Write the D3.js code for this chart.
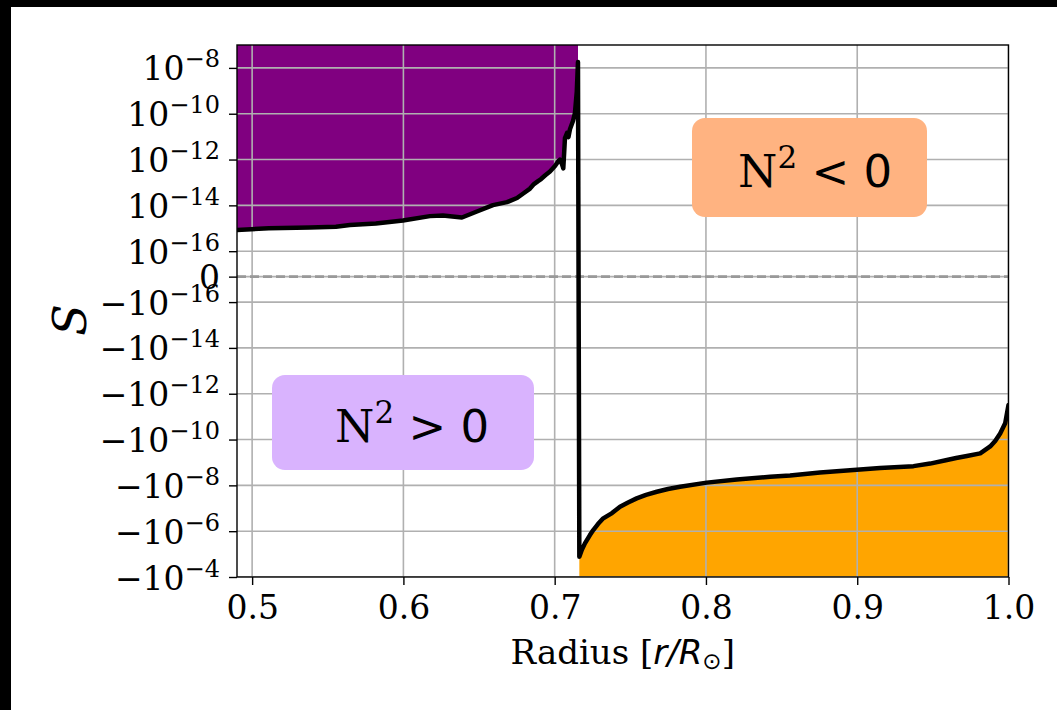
<!DOCTYPE html>
<html>
<head>
<meta charset="utf-8">
<script src="https://cdn.jsdelivr.net/npm/d3@7"></script>
<style>
  body { margin: 0; background: #fff; }
  svg { display: block; }
</style>
</head>
<body>
<svg id="chart" width="1057" height="710"></svg>
<script>
// Radial profile of the stability quantity S through the base of the convection zone
const radius = [
  0.4900, 0.5110, 0.5382, 0.5554, 0.5646, 0.5818, 0.5997, 0.6175, 0.6261, 0.6387,
  0.6486, 0.6592, 0.6685, 0.6751, 0.6797, 0.6837, 0.6863, 0.6890, 0.6910, 0.6936,
  0.6969, 0.7002, 0.7024, 0.7035, 0.7048, 0.7057, 0.7068, 0.7082, 0.7091, 0.7101,
  0.7121, 0.7134, 0.7146, 0.7154,
  0.7163, 0.7179, 0.7200, 0.7233, 0.7255, 0.7286, 0.7321, 0.7379, 0.7432, 0.7485,
  0.7542, 0.7604, 0.7675, 0.7749, 0.7829, 0.8005, 0.8204, 0.8424, 0.8556, 0.8754,
  0.8997, 0.9151, 0.9372, 0.9482, 0.9593, 0.9654, 0.9725, 0.9813, 0.9879, 0.9912,
  0.9945, 0.9978, 1.0000
];
const sValue = [
  8.4e-16, 1.0e-15, 1.07e-15, 1.17e-15, 1.38e-15, 1.62e-15, 2.19e-15, 3.39e-15, 3.63e-15, 2.95e-15,
  5.4e-15, 1.02e-14, 1.38e-14, 2.09e-14, 3.47e-14, 5.4e-14, 8.5e-14, 1.15e-13, 1.41e-13, 2.0e-13,
  3.0e-13, 5.2e-13, 8.5e-13, 1.0e-12, 6.3e-13, 4.1e-13, 8.7e-12, 1.45e-11, 9.5e-12, 2.1e-11,
  4.8e-11, 1.07e-10, 8.9e-10, 1.8e-8,
  -1.3e-5, -6.6e-6, -3.4e-6, -1.48e-6, -8.9e-7, -4.9e-7, -2.75e-7, -1.62e-7, -8.5e-8, -5.6e-8,
  -3.7e-8, -2.6e-8, -1.9e-8, -1.45e-8, -1.15e-8, -7.6e-9, -5.5e-9, -4.2e-9, -3.7e-9, -2.75e-9,
  -2.1e-9, -1.74e-9, -1.45e-9, -1.12e-9, -7.8e-10, -6.4e-10, -5.2e-10, -4.0e-10, -2.0e-10, -1.15e-10,
  -5.4e-11, -1.95e-11, -3.1e-12
];

const yTickValues = [1e-8, 1e-10, 1e-12, 1e-14, 1e-16, 0, -1e-16, -1e-14, -1e-12, -1e-10, -1e-8, -1e-6, -1e-4];
const yTickBase = ["10", "10", "10", "10", "10", "0", "\u221210", "\u221210", "\u221210", "\u221210", "\u221210", "\u221210", "\u221210"];
const yTickExp = ["\u22128", "\u221210", "\u221212", "\u221214", "\u221216", "", "\u221216", "\u221214", "\u221212", "\u221210", "\u22128", "\u22126", "\u22124"];
const xTickValues = [0.5, 0.6, 0.7, 0.8, 0.9, 1.0];
const xTickLabels = ["0.5", "0.6", "0.7", "0.8", "0.9", "1.0"];

const regionLabels = [
  { text: "N", sup: "2", rel: " < 0" },
  { text: "N", sup: "2", rel: " > 0" }
];

// symmetric-log transform (linear inside |S| < linthresh)
const linthresh = 1e-16;
const linscale = 1 / (1 - 1 / 10);
function symlog(v) {
  const a = Math.abs(v);
  if (a <= linthresh) return v / linthresh * linscale;
  return Math.sign(v) * (linscale + Math.log10(a / linthresh));
}

const svg = d3.select("#chart");
const W = 1057, H = 710;
const plot = { left: 237, right: 1008.5, top: 45, bottom: 577 };

svg.append("rect").attr("width", W).attr("height", H).attr("fill", "#fff");
// dark frame strips along the top and left edges
svg.append("rect").attr("x", 0).attr("y", 0).attr("width", W).attr("height", 7).attr("fill", "#000");
svg.append("rect").attr("x", 0).attr("y", 0).attr("width", 11).attr("height", H).attr("fill", "#000");

const x = d3.scaleLinear().domain([0.49, 1.0]).range([plot.left, plot.right]);
const yT = d3.scaleLinear().domain([symlog(-1e-4), symlog(1e-7)]).range([plot.bottom, plot.top]);
const y = v => yT(symlog(v));

const pts = radius.map((r, i) => ({ r, s: sValue[i] }));
const pos = pts.filter(d => d.s > 0);
const neg = pts.filter(d => d.s < 0);

const serif = "'DejaVu Serif', serif";

svg.append("defs").append("clipPath").attr("id", "plotclip")
  .append("rect").attr("x", plot.left).attr("y", plot.top)
  .attr("width", plot.right - plot.left).attr("height", plot.bottom - plot.top);

const g = svg.append("g").attr("clip-path", "url(#plotclip)");

// stable region above the curve, unstable region below it
g.append("path").datum(pos)
  .attr("d", d3.area().x(d => x(d.r)).y0(plot.top).y1(d => y(d.s)))
  .attr("fill", "#800080");
g.append("path").datum(neg)
  .attr("d", d3.area().x(d => x(d.r)).y0(plot.bottom).y1(d => y(d.s)))
  .attr("fill", "#ffa500");

// grid
g.selectAll(".gx").data(xTickValues).join("line")
  .attr("x1", d => x(d)).attr("x2", d => x(d))
  .attr("y1", plot.top).attr("y2", plot.bottom)
  .attr("stroke", "#b0b0b0").attr("stroke-width", 1.6);
g.selectAll(".gy").data(yTickValues).join("line")
  .attr("x1", plot.left).attr("x2", plot.right)
  .attr("y1", d => y(d)).attr("y2", d => y(d))
  .attr("stroke", "#b0b0b0").attr("stroke-width", 1.6);

// zero reference
g.append("line")
  .attr("x1", plot.left).attr("x2", plot.right)
  .attr("y1", y(0)).attr("y2", y(0))
  .attr("stroke", "#999999").attr("stroke-width", 2.6)
  .attr("stroke-dasharray", "9,4");

// profile curve
g.append("path").datum(pts)
  .attr("d", d3.line().x(d => x(d.r)).y(d => y(d.s)))
  .attr("fill", "none").attr("stroke", "#000").attr("stroke-width", 4.5)
  .attr("stroke-linejoin", "round").attr("stroke-linecap", "round");

// region annotations
function labelBox(cx, cy, bw, bh, fill, lab, tx, baseline) {
  svg.append("rect").attr("x", cx).attr("y", cy).attr("width", bw).attr("height", bh)
    .attr("rx", 13).attr("fill", fill);
  const t = svg.append("text").attr("x", tx).attr("y", baseline)
    .attr("font-family", serif).attr("font-size", 45).attr("fill", "#000");
  t.append("tspan").text(lab.text);
  t.append("tspan").attr("dy", -19).attr("font-size", 31).text(lab.sup);
  t.append("tspan").attr("dy", 19).attr("font-family", "'DejaVu Sans', sans-serif").text(lab.rel);
}
labelBox(692, 118, 235, 99, "#ffb381", regionLabels[0], 738, 187);
labelBox(272, 375, 262, 95, "#d9b3fe", regionLabels[1], 335, 442);

// axes spines
svg.append("rect").attr("x", plot.left).attr("y", plot.top)
  .attr("width", plot.right - plot.left).attr("height", plot.bottom - plot.top)
  .attr("fill", "none").attr("stroke", "#000").attr("stroke-width", 1.4);

// y axis
const yAxis = svg.append("g").attr("transform", `translate(${plot.left},0)`)
  .call(d3.axisLeft(yT).tickValues(yTickValues.map(symlog)).tickSize(8).tickFormat(""));
yAxis.select(".domain").remove();
yAxis.selectAll(".tick line").attr("stroke", "#000").attr("stroke-width", 1.4);
yAxis.selectAll(".tick").each(function (d, i) {
  const t = d3.select(this).append("text")
    .attr("x", -17).attr("y", 12).attr("text-anchor", "end")
    .attr("font-family", serif).attr("font-size", 33).attr("fill", "#000");
  t.append("tspan").text(yTickBase[i]);
  if (yTickExp[i]) t.append("tspan").attr("dy", -13).attr("font-size", 24).text(yTickExp[i]);
});

// x axis
const xAxis = svg.append("g").attr("transform", `translate(0,${plot.bottom})`)
  .call(d3.axisBottom(x).tickValues(xTickValues).tickSize(8).tickFormat((d, i) => xTickLabels[i]));
xAxis.select(".domain").remove();
xAxis.selectAll(".tick line").attr("stroke", "#000").attr("stroke-width", 1.4);
xAxis.selectAll(".tick text").attr("y", 0).attr("dy", 42)
  .attr("font-family", serif).attr("font-size", 33).attr("fill", "#000");

// axis titles
const xl = svg.append("text").attr("x", (plot.left + plot.right) / 2).attr("y", 664)
  .attr("text-anchor", "middle").attr("font-family", serif).attr("font-size", 34).attr("fill", "#000");
xl.append("tspan").text("Radius [");
xl.append("tspan").attr("font-family", "'DejaVu Sans', sans-serif").attr("font-style", "italic").text("r/R");
xl.append("tspan").attr("font-family", "'DejaVu Sans', sans-serif").attr("font-size", 23).attr("dy", 5).text("\u2299");
xl.append("tspan").attr("dy", -5).text("]");

svg.append("text").attr("transform", "translate(86,320) rotate(-90)")
  .attr("text-anchor", "middle").attr("font-family", serif).attr("font-style", "italic")
  .attr("font-size", 46).attr("fill", "#000").text("S");
</script>
</body>
</html>
